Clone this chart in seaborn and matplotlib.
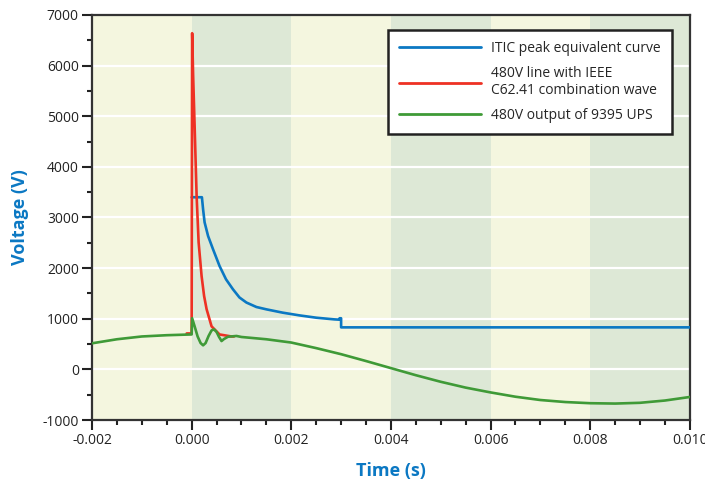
"""ITIC curve vs. 480V surge and UPS output voltage."""

import matplotlib

matplotlib.use("Agg")

import matplotlib.pyplot as plt
import pandas as pd
import seaborn as sns
from matplotlib.ticker import MultipleLocator

BLUE = "#0b78c3"
RED = "#ee3124"
GREEN = "#3f9a37"
BAND_YELLOW = "#f4f6df"
BAND_GREEN = "#dde8d6"

# ITIC peak equivalent curve
itic_t = [0.0, 0.000206, 0.00023, 0.00026, 0.00033, 0.00043, 0.00056, 0.00069,
          0.00083, 0.00096, 0.0011, 0.0013, 0.0015, 0.00183, 0.00216, 0.0025,
          0.00286, 0.00296, 0.00297, 0.003, 0.003, 0.010]
itic_v = [3400, 3400, 3160, 2905, 2634, 2371, 2042, 1779,
          1581, 1420, 1320, 1232, 1186, 1120, 1067, 1021,
          988, 982, 1010, 1010, 830, 830]

# 480V line with IEEE C62.41 combination wave
surge_t = [-0.0001, 0.0, 0.00001, 0.00003, 0.00006, 0.0001, 0.00014, 0.0002,
           0.00025, 0.0003, 0.0004, 0.00056, 0.0008, 0.00085]
surge_v = [710, 710, 6640, 5800, 4800, 3420, 2510, 1840,
           1450, 1190, 850, 690, 650, 650]

# 480V output of 9395 UPS
ups_t = [-0.002, -0.0015, -0.001, -0.0005, 0.0, 0.00001, 0.00006, 0.00012,
         0.00018, 0.00023, 0.00028, 0.00034, 0.0004, 0.00045, 0.0005, 0.00055,
         0.0006, 0.00065, 0.00073, 0.0009, 0.001, 0.0015, 0.002, 0.0025,
         0.003, 0.0035, 0.004, 0.0045, 0.005, 0.0055, 0.006, 0.0065,
         0.007, 0.0075, 0.008, 0.0085, 0.009, 0.0095, 0.010]
ups_v = [515, 595, 650, 675, 690, 1010, 850, 650,
         520, 475, 520, 660, 770, 790, 740, 640,
         560, 600, 645, 660, 640, 595, 530, 420,
         300, 165, 25, -115, -245, -360, -455, -540,
         -605, -645, -668, -675, -660, -615, -545]

band_edges = [-0.002, 0.0, 0.002, 0.004, 0.006, 0.008, 0.010]
x_ticks = [-0.002, 0.0, 0.002, 0.004, 0.006, 0.008, 0.010]
y_ticks = [-1000, 0, 1000, 2000, 3000, 4000, 5000, 6000, 7000]

LABELS = [
    "ITIC peak equivalent curve",
    "480V line with IEEE\nC62.41 combination wave",
    "480V output of 9395 UPS",
]


def build_frame():
    parts = []
    for times, volts, label in zip(
        [itic_t, surge_t, ups_t], [itic_v, surge_v, ups_v], LABELS
    ):
        parts.append(pd.DataFrame({"t": times, "v": volts, "series": label}))
    return pd.concat(parts, ignore_index=True)


def main():
    sns.set_style("ticks")
    plt.rcParams["font.family"] = ["Open Sans", "DejaVu Sans"]
    plt.rcParams["axes.unicode_minus"] = False

    fig = plt.figure(figsize=(7.05, 4.83), dpi=100)
    ax = fig.add_axes([0.1305, 0.1304, 0.848, 0.8386])

    for i in range(len(band_edges) - 1):
        color = BAND_YELLOW if i % 2 == 0 else BAND_GREEN
        ax.axvspan(band_edges[i], band_edges[i + 1], color=color, lw=0, zorder=0)
    for y in y_ticks[1:-1]:
        ax.axhline(y, color="white", lw=1.6, zorder=1)

    data = build_frame()
    sns.lineplot(
        data=data, x="t", y="v", hue="series", hue_order=LABELS,
        palette=[BLUE, RED, GREEN], sort=False, estimator=None,
        linewidth=1.9, ax=ax, zorder=3,
    )

    ax.set_xlim(-0.002, 0.010)
    ax.set_ylim(-1000, 7000)
    ax.set_xticks(x_ticks)
    ax.set_xticklabels([f"{x:.3f}" for x in x_ticks])
    ax.set_yticks(y_ticks)
    ax.xaxis.set_minor_locator(MultipleLocator(0.0005))
    ax.yaxis.set_minor_locator(MultipleLocator(500))
    ax.tick_params(axis="both", which="major", length=7, width=1.5, pad=2.5,
                   color="#222222", labelsize=10, labelcolor="#222222")
    ax.tick_params(axis="both", which="minor", length=3.6, width=1.5,
                   color="#222222")
    for spine in ax.spines.values():
        spine.set_visible(True)
        spine.set_color("#333333")
        spine.set_linewidth(1.6)

    ax.set_xlabel("Time (s)", color=BLUE, fontsize=13, fontweight="bold",
                  labelpad=10)
    ax.set_ylabel("Voltage (V)", color=BLUE, fontsize=13, fontweight="bold",
                  labelpad=10)

    legend = ax.legend(
        loc="upper right", bbox_to_anchor=(0.970, 0.963), borderaxespad=0,
        frameon=True, fancybox=False, fontsize=10, handlelength=5.9,
        handletextpad=0.75, borderpad=0.8, labelspacing=0.72,
    )
    legend.get_frame().set_edgecolor("#222222")
    legend.get_frame().set_linewidth(1.8)
    legend.get_frame().set_facecolor("white")
    legend.get_frame().set_alpha(1.0)
    for line in legend.get_lines():
        line.set_linewidth(2.0)

    fig.savefig("out.png", dpi=100)
    plt.close(fig)


if __name__ == "__main__":
    main()
